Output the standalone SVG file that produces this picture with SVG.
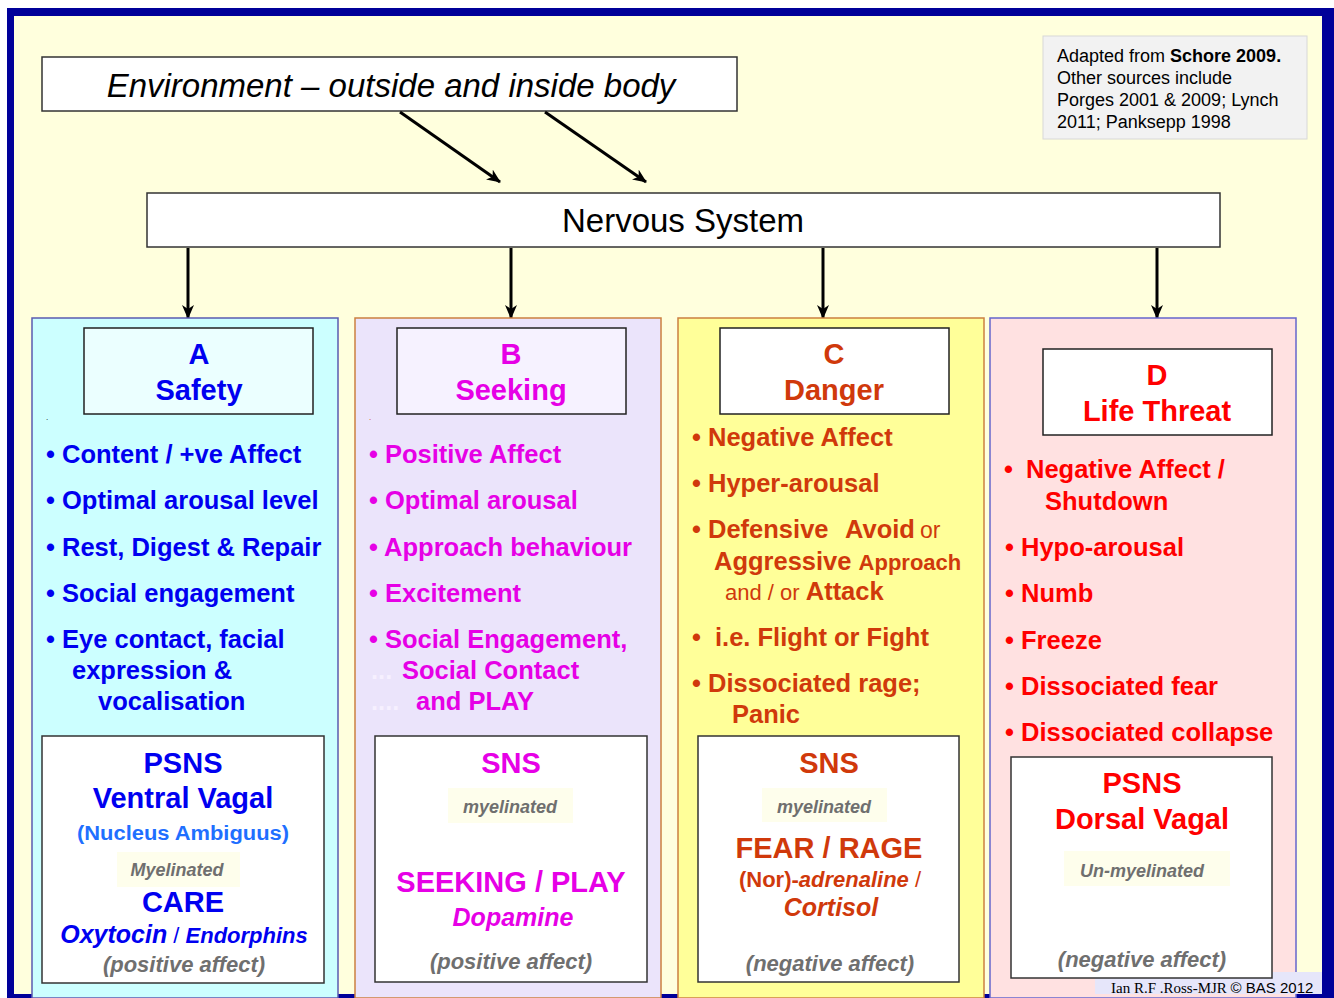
<svg xmlns="http://www.w3.org/2000/svg" width="1334" height="998" viewBox="0 0 1334 998">
<style>
text{font-family:"Liberation Sans",Arial,sans-serif}
.b{font-weight:bold}
.i{font-style:italic}
.bul{font-weight:bold;font-size:25.5px}
.ttl{font-weight:bold;font-size:29px;text-anchor:middle}
.big{font-weight:bold;font-size:29px;text-anchor:middle}
.gray{fill:#6f6f6f;font-weight:bold;font-style:italic;text-anchor:middle}
.blue{fill:#0000F0}
.mag{fill:#E600E6}
.ora{fill:#D0390B}
.red{fill:#FF0000}
.box{fill:#FFFFFF;stroke:#333;stroke-width:1.5}
.myel{fill:#FEFEEC}
.con{stroke:#000;stroke-width:3;fill:none}
</style>
<defs>
<marker id="ah" markerUnits="userSpaceOnUse" markerWidth="14" markerHeight="12" refX="13" refY="6" orient="auto">
<path d="M0,0 L14,6 L0,12 L4,6 Z" fill="#000"/>
</marker>
</defs>
<rect x="0" y="0" width="1334" height="998" fill="#FFFFFF"/>
<rect x="7" y="8" width="1327" height="990" fill="#000099"/>
<rect x="14" y="16" width="1308" height="978" fill="#FFFFDD"/>

<g id="env">
<rect x="42" y="57" width="695" height="54" fill="#FFFFFF" stroke="#333" stroke-width="1.5"/>
<text x="391" y="97" font-size="33" font-style="italic" text-anchor="middle">Environment – outside and inside body</text>
</g>

<g id="note">
<rect x="1043" y="36" width="264" height="103" fill="#F2F2F2" stroke="#D8D8D8" stroke-width="1"/>
<text x="1057" y="62" font-size="18">Adapted from <tspan font-weight="bold">Schore 2009.</tspan></text>
<text x="1057" y="84" font-size="18">Other sources include</text>
<text x="1057" y="106" font-size="18">Porges 2001 &amp; 2009; Lynch</text>
<text x="1057" y="128" font-size="18">2011; Panksepp 1998</text>
</g>

<g id="nervous">
<rect x="147" y="193" width="1073" height="54" fill="#FFFFFF" stroke="#333" stroke-width="1.5"/>
<text x="683" y="232" font-size="33" text-anchor="middle">Nervous System</text>
</g>

<g id="connectors">
<line class="con" x1="400" y1="112" x2="500" y2="182" marker-end="url(#ah)"/>
<line class="con" x1="545" y1="112" x2="646" y2="182" marker-end="url(#ah)"/>
<line class="con" x1="188" y1="248" x2="188" y2="318" marker-end="url(#ah)"/>
<line class="con" x1="511" y1="248" x2="511" y2="318" marker-end="url(#ah)"/>
<line class="con" x1="823" y1="248" x2="823" y2="318" marker-end="url(#ah)"/>
<line class="con" x1="1157" y1="248" x2="1157" y2="318" marker-end="url(#ah)"/>
</g>

<g id="colA">
<rect x="32" y="318" width="306" height="680" fill="#CCFFFF" stroke="#5B5BB0" stroke-width="1.5"/>
<rect x="84" y="328" width="229" height="86" fill="#EBFFFF" stroke="#222" stroke-width="1.5"/>
<text class="ttl blue" x="199" y="364">A</text>
<text class="ttl blue" x="199" y="400">Safety</text>
<text x="46" y="420" font-size="8">.</text>
<text class="bul blue" x="46" y="463">• Content / +ve Affect</text>
<text class="bul blue" x="46" y="509">• Optimal arousal level</text>
<text class="bul blue" x="46" y="556">• Rest, Digest &amp; Repair</text>
<text class="bul blue" x="46" y="602">• Social engagement</text>
<text class="bul blue" x="46" y="648">• Eye contact, facial</text>
<text class="bul blue" x="72" y="679">expression &amp;</text>
<text class="bul blue" x="98" y="710">vocalisation</text>
<rect class="box" x="42" y="736" width="282" height="247"/>
<text class="big blue" x="183" y="773">PSNS</text>
<text class="big blue" x="183" y="808">Ventral Vagal</text>
<text x="183" y="840" font-family="'Open Sans',sans-serif" font-weight="bold" font-size="20" fill="#1F6FFF" text-anchor="middle" textLength="212" lengthAdjust="spacingAndGlyphs">(Nucleus Ambiguus)</text>
<rect class="myel" x="117" y="852" width="123" height="35"/>
<text class="gray" x="177" y="876" font-size="18">Myelinated</text>
<text class="big blue" x="183" y="912">CARE</text>
<text class="blue b i" x="184" y="943" text-anchor="middle"><tspan font-size="25">Oxytocin</tspan><tspan font-size="22" font-style="normal" font-weight="normal"> / </tspan><tspan font-size="22">Endorphins</tspan></text>
<text class="gray" x="184" y="972" font-size="22">(positive affect)</text>
</g>

<g id="colB">
<rect x="355" y="318" width="306" height="680" fill="#EBE4FB" stroke="#CC8040" stroke-width="1.5"/>
<rect x="397" y="328" width="229" height="86" fill="#F6F2FF" stroke="#222" stroke-width="1.5"/>
<text class="ttl mag" x="511" y="364">B</text>
<text class="ttl mag" x="511" y="400">Seeking</text>
<text x="369" y="420" font-size="8" fill="#CC3300">.</text>
<text class="bul mag" x="369" y="463">• Positive Affect</text>
<text class="bul mag" x="369" y="509">• Optimal arousal</text>
<text class="bul mag" x="369" y="556">• Approach behaviour</text>
<text class="bul mag" x="369" y="602">• Excitement</text>
<text class="bul mag" x="369" y="648">• Social Engagement,</text>
<text class="bul" x="371" y="679" fill="#F6F0FF">...</text>
<text class="bul mag" x="402" y="679">Social Contact</text>
<text class="bul" x="371" y="710" fill="#F6F0FF">....</text>
<text class="bul mag" x="416" y="710">and PLAY</text>
<rect class="box" x="375" y="736" width="272" height="246"/>
<text class="big mag" x="511" y="773">SNS</text>
<rect class="myel" x="448" y="788" width="125" height="35"/>
<text class="gray" x="510" y="813" font-size="18">myelinated</text>
<text class="big mag" x="511" y="892">SEEKING / PLAY</text>
<text class="mag b i" x="513" y="926" font-size="25" text-anchor="middle">Dopamine</text>
<text class="gray" x="511" y="969" font-size="22">(positive affect)</text>
</g>

<g id="colC">
<rect x="678" y="318" width="306" height="680" fill="#FFFF99" stroke="#CC8040" stroke-width="1.5"/>
<rect x="720" y="328" width="229" height="86" fill="#FFFFFF" stroke="#222" stroke-width="1.5"/>
<text class="ttl ora" x="834" y="364">C</text>
<text class="ttl ora" x="834" y="400">Danger</text>
<text class="bul ora" x="692" y="446">• Negative Affect</text>
<text class="bul ora" x="692" y="492">• Hyper-arousal</text>
<text class="bul ora" x="692" y="538">• Defensive</text>
<text class="bul ora" x="845" y="538">Avoid</text>
<text class="ora" x="920" y="538" font-size="23">or</text>
<text class="bul ora" x="714" y="570">Aggressive <tspan font-size="22">Approach</tspan></text>
<text class="ora" x="725" y="600" font-size="22">and / or <tspan font-weight="bold" font-size="25.5">Attack</tspan></text>
<text class="bul ora" x="692" y="646">•</text>
<text class="bul ora" x="715" y="646">i.e. Flight or Fight</text>
<text class="bul ora" x="692" y="692">• Dissociated rage;</text>
<text class="bul ora" x="732" y="723">Panic</text>
<rect class="box" x="698" y="736" width="261" height="246"/>
<text class="big ora" x="829" y="773">SNS</text>
<rect class="myel" x="762" y="788" width="125" height="34"/>
<text class="gray" x="824" y="813" font-size="18">myelinated</text>
<text class="big ora" x="829" y="858">FEAR / RAGE</text>
<text class="ora b" x="830" y="887" font-size="22" text-anchor="middle">(Nor)-<tspan font-style="italic">adrenaline</tspan><tspan font-weight="normal"> /</tspan></text>
<text class="ora b i" x="831" y="916" font-size="25" text-anchor="middle">Cortisol</text>
<text class="gray" x="830" y="971" font-size="22">(negative affect)</text>
</g>

<g id="colD">
<rect x="990" y="318" width="306" height="680" fill="#FFE1E1" stroke="#6666CC" stroke-width="1.5"/>
<rect x="1043" y="349" width="229" height="86" fill="#FFFFFF" stroke="#222" stroke-width="1.5"/>
<text class="ttl red" x="1157" y="385">D</text>
<text class="ttl red" x="1157" y="421">Life Threat</text>
<text class="bul red" x="1004" y="478" font-size="30">•</text>
<text class="bul red" x="1026" y="478">Negative Affect /</text>
<text class="bul red" x="1045" y="510">Shutdown</text>
<text class="bul red" x="1005" y="556">• Hypo-arousal</text>
<text class="bul red" x="1005" y="602">• Numb</text>
<text class="bul red" x="1005" y="649">• Freeze</text>
<text class="bul red" x="1005" y="695">• Dissociated fear</text>
<text class="bul red" x="1005" y="741">• Dissociated collapse</text>
</g>

<g id="credits">
<rect x="1095" y="972" width="227" height="22" fill="#E6E6FA"/>
<text x="1111" y="993" font-size="15"><tspan font-family="'Liberation Serif',serif">Ian R.F .Ross-MJR </tspan><tspan>© BAS 2012</tspan></text>
</g>

<g id="colDbox">
<rect class="box" x="1011" y="757" width="261" height="221"/>
<text class="big red" x="1142" y="793">PSNS</text>
<text class="big red" x="1142" y="829">Dorsal Vagal</text>
<rect class="myel" x="1064" y="851" width="166" height="35"/>
<text class="gray" x="1142" y="877" font-size="18">Un-myelinated</text>
<text class="gray" x="1142" y="967" font-size="22">(negative affect)</text>
</g>
</svg>
